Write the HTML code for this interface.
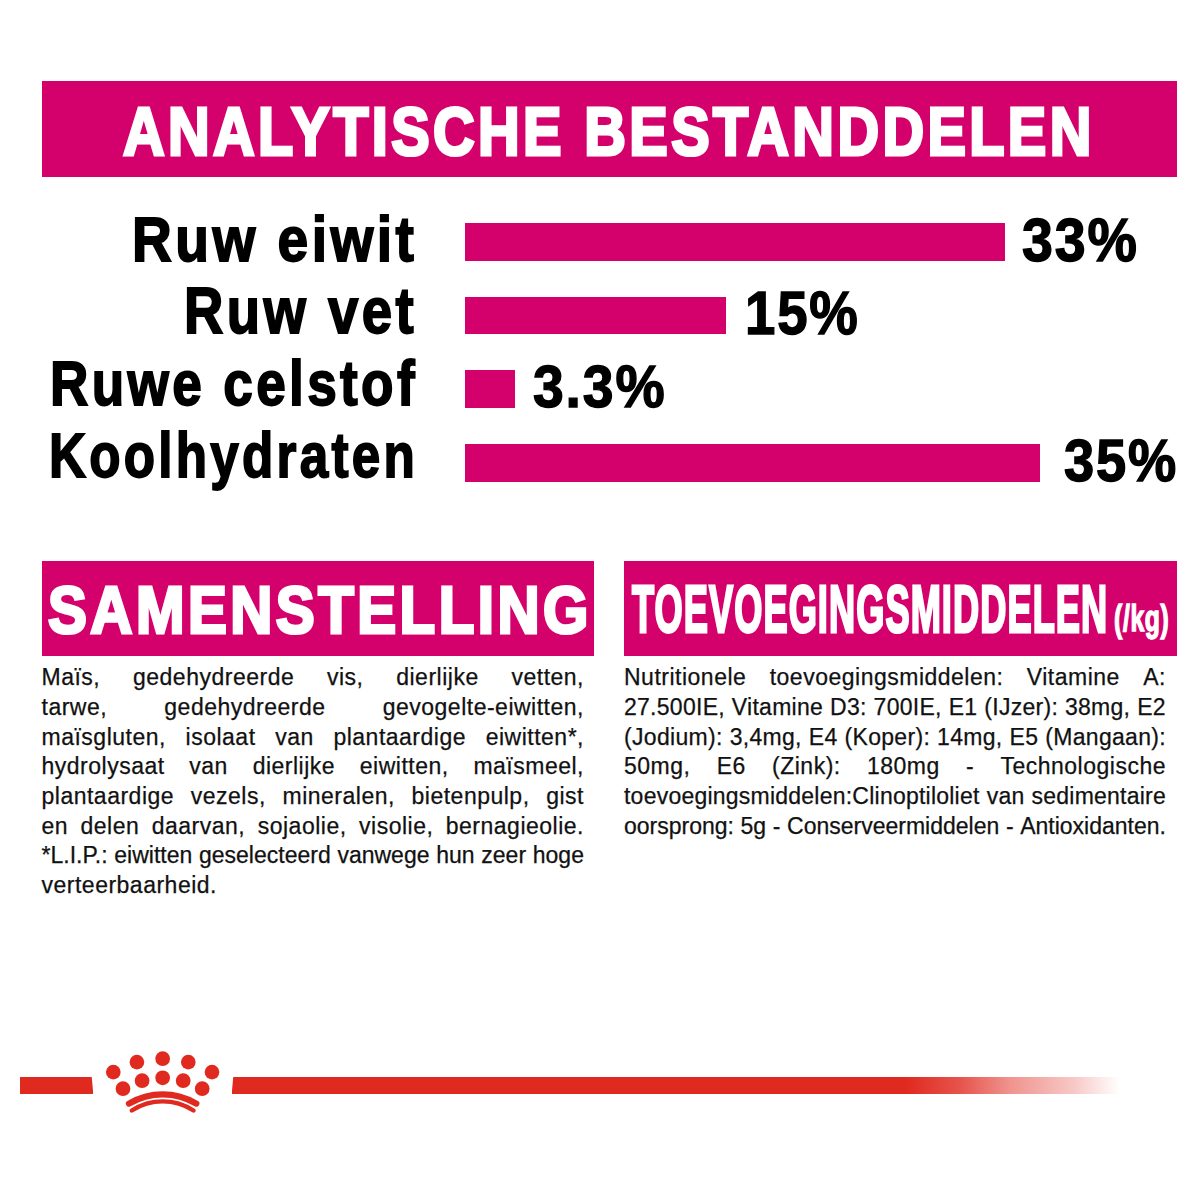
<!DOCTYPE html>
<html><head><meta charset="utf-8">
<style>
html,body{margin:0;padding:0;background:#fff;}
body{width:1200px;height:1200px;position:relative;overflow:hidden;font-family:"Liberation Sans",sans-serif;}
.abs{position:absolute;}
.mag{background:#d4006c;}
.t{position:absolute;white-space:nowrap;line-height:1;transform-origin:0 0;}
.b{font-weight:bold;}
.ln{position:absolute;white-space:nowrap;font-size:23px;line-height:23px;color:#111;-webkit-text-stroke:0.25px #111;}
.j{display:flex;justify-content:space-between;}
</style></head><body>
<div class="abs mag" style="left:41.5px;top:81px;width:1135px;height:95.5px;"></div>
<div id="title" class="t b" style="left:122.73px;top:97.64px;font-size:67.87px;color:#fff;-webkit-text-stroke:3.2px #fff;letter-spacing:4px;transform:scaleX(0.8493);">ANALYTISCHE BESTANDDELEN</div>
<div id="l1" class="t b" style="left:131.92px;top:207.84px;font-size:63.84px;color:#000;-webkit-text-stroke:1.8px #000;letter-spacing:4px;transform:scaleX(0.8641);">Ruw eiwit</div>
<div id="l2" class="t b" style="left:184.25px;top:279.87px;font-size:63.91px;color:#000;-webkit-text-stroke:1.8px #000;letter-spacing:4px;transform:scaleX(0.8539);">Ruw vet</div>
<div id="l3" class="t b" style="left:49.53px;top:351.80px;font-size:63.77px;color:#000;-webkit-text-stroke:1.8px #000;letter-spacing:4px;transform:scaleX(0.8337);">Ruwe celstof</div>
<div id="l4" class="t b" style="left:49.43px;top:423.70px;font-size:63.77px;color:#000;-webkit-text-stroke:1.8px #000;letter-spacing:4px;transform:scaleX(0.8041);">Koolhydraten</div>
<div class="abs mag" style="left:464.5px;top:222.75px;width:540.40px;height:38.50px;"></div>
<div class="abs mag" style="left:464.5px;top:296.5px;width:261.50px;height:37.50px;"></div>
<div class="abs mag" style="left:464.5px;top:369.8px;width:50.50px;height:38.10px;"></div>
<div class="abs mag" style="left:464.5px;top:443.7px;width:575.90px;height:38.00px;"></div>
<div id="p1" class="t b" style="left:1021.93px;top:209.66px;font-size:60.28px;color:#000;-webkit-text-stroke:1.4px #000;letter-spacing:2px;transform:scaleX(0.9223);">33%</div>
<div id="p2" class="t b" style="left:745.45px;top:282.52px;font-size:61.14px;color:#000;-webkit-text-stroke:1.4px #000;letter-spacing:2px;transform:scaleX(0.8929);">15%</div>
<div id="p3" class="t b" style="left:532.84px;top:357.14px;font-size:59.72px;color:#000;-webkit-text-stroke:1.4px #000;letter-spacing:2px;transform:scaleX(0.9262);">3.3%</div>
<div id="p4" class="t b" style="left:1064.45px;top:430.82px;font-size:59.86px;color:#000;-webkit-text-stroke:1.4px #000;letter-spacing:2px;transform:scaleX(0.9064);">35%</div>
<div class="abs mag" style="left:41.5px;top:561px;width:552.5px;height:95.25px;"></div>
<div id="sam" class="t b" style="left:48.39px;top:575.88px;font-size:66.99px;color:#fff;-webkit-text-stroke:3.2px #fff;letter-spacing:4px;transform:scaleX(0.8699);">SAMENSTELLING</div>
<div class="abs mag" style="left:624px;top:561px;width:552.5px;height:95.25px;"></div>
<div id="toe" class="t b" style="left:632.14px;top:575.29px;font-size:67.54px;color:#fff;-webkit-text-stroke:3px #fff;letter-spacing:2px;transform:scaleX(0.5360);">TOEVOEGINGSMIDDELEN</div>
<div id="kg" class="t b" style="left:1113.85px;top:600.41px;font-size:37.81px;color:#fff;-webkit-text-stroke:1.5px #fff;letter-spacing:1px;transform:scaleX(0.6540);">(/kg)</div>
<div class="ln j" style="left:41.5px;top:666.13px;width:542.5px;letter-spacing:0.50px;"><span>Maïs,</span><span>gedehydreerde</span><span>vis,</span><span>dierlijke</span><span>vetten,</span></div>
<div class="ln j" style="left:41.5px;top:695.83px;width:542.5px;letter-spacing:0.50px;"><span>tarwe,</span><span>gedehydreerde</span><span>gevogelte-eiwitten,</span></div>
<div class="ln j" style="left:41.5px;top:725.53px;width:542.5px;letter-spacing:0.50px;"><span>maïsgluten,</span><span>isolaat</span><span>van</span><span>plantaardige</span><span>eiwitten*,</span></div>
<div class="ln j" style="left:41.5px;top:755.23px;width:542.5px;letter-spacing:0.50px;"><span>hydrolysaat</span><span>van</span><span>dierlijke</span><span>eiwitten,</span><span>maïsmeel,</span></div>
<div class="ln j" style="left:41.5px;top:784.83px;width:542.5px;letter-spacing:0.50px;"><span>plantaardige</span><span>vezels,</span><span>mineralen,</span><span>bietenpulp,</span><span>gist</span></div>
<div class="ln j" style="left:41.5px;top:814.53px;width:542.5px;letter-spacing:0.50px;"><span>en</span><span>delen</span><span>daarvan,</span><span>sojaolie,</span><span>visolie,</span><span>bernagieolie.</span></div>
<div class="ln j" style="left:41.5px;top:844.13px;width:542.5px;letter-spacing:0.00px;"><span>*L.I.P.:</span><span>eiwitten</span><span>geselecteerd</span><span>vanwege</span><span>hun</span><span>zeer</span><span>hoge</span></div>
<div class="ln" style="left:41.5px;top:873.83px;width:542.5px;letter-spacing:0.5px;">verteerbaarheid.</div>
<div class="ln j" style="left:624px;top:666.13px;width:542px;letter-spacing:0.50px;"><span>Nutritionele</span><span>toevoegingsmiddelen:</span><span>Vitamine</span><span>A:</span></div>
<div class="ln j" style="left:624px;top:695.83px;width:542px;letter-spacing:0.27px;"><span>27.500IE,</span><span>Vitamine</span><span>D3:</span><span>700IE,</span><span>E1</span><span>(IJzer):</span><span>38mg,</span><span>E2</span></div>
<div class="ln j" style="left:624px;top:725.53px;width:542px;letter-spacing:0.31px;"><span>(Jodium):</span><span>3,4mg,</span><span>E4</span><span>(Koper):</span><span>14mg,</span><span>E5</span><span>(Mangaan):</span></div>
<div class="ln j" style="left:624px;top:755.23px;width:542px;letter-spacing:0.50px;"><span>50mg,</span><span>E6</span><span>(Zink):</span><span>180mg</span><span>-</span><span>Technologische</span></div>
<div class="ln j" style="left:624px;top:784.83px;width:542px;letter-spacing:0.23px;"><span>toevoegingsmiddelen:Clinoptiloliet</span><span>van</span><span>sedimentaire</span></div>
<div class="ln j" style="left:624px;top:814.53px;width:542px;letter-spacing:0.00px;"><span>oorsprong:</span><span>5g</span><span>-</span><span>Conserveermiddelen</span><span>-</span><span>Antioxidanten.</span></div>

<div class="abs" style="left:20px;top:1076.6px;width:73.3px;height:17.6px;background:#e0291f;clip-path:polygon(0 0,71.7px 0,73.3px 100%,0 100%);"></div>
<div class="abs" style="left:231.7px;top:1076.6px;width:890px;height:17.6px;background:linear-gradient(to right,#e0291f 0,#e0291f 673px,rgba(224,41,31,0.8) 728px,rgba(224,41,31,0.5) 778px,rgba(224,41,31,0.25) 843px,rgba(224,41,31,0.08) 873px,rgba(224,41,31,0) 888px);clip-path:polygon(1.6px 0,100% 0,100% 100%,0 100%);"></div>
<svg class="abs" style="left:0;top:0;" width="1200" height="1200" viewBox="0 0 1200 1200">
<g fill="#e0291f">
<circle cx="162.65" cy="1058.7" r="7.35"/>
<circle cx="136.9" cy="1062.1" r="7.35"/>
<circle cx="188.3" cy="1062.1" r="7.35"/>
<circle cx="113.3" cy="1072.1" r="7.35"/>
<circle cx="212.0" cy="1072.1" r="7.35"/>
<circle cx="162.65" cy="1077.8" r="7.35"/>
<circle cx="142.1" cy="1080.7" r="7.35"/>
<circle cx="183.2" cy="1080.7" r="7.35"/>
<circle cx="123.0" cy="1088.7" r="7.35"/>
<circle cx="202.2" cy="1088.7" r="7.35"/>
</g>
<g fill="none" stroke="#e0291f" stroke-linecap="round">
<path d="M129 1103.6 A65.5 65.5 0 0 1 196.3 1103.6" stroke-width="6.2"/>
<path d="M131.8 1110.5 A56.8 56.8 0 0 1 193.5 1110.5" stroke-width="4.4"/>
</g>
</svg>

</body></html>
